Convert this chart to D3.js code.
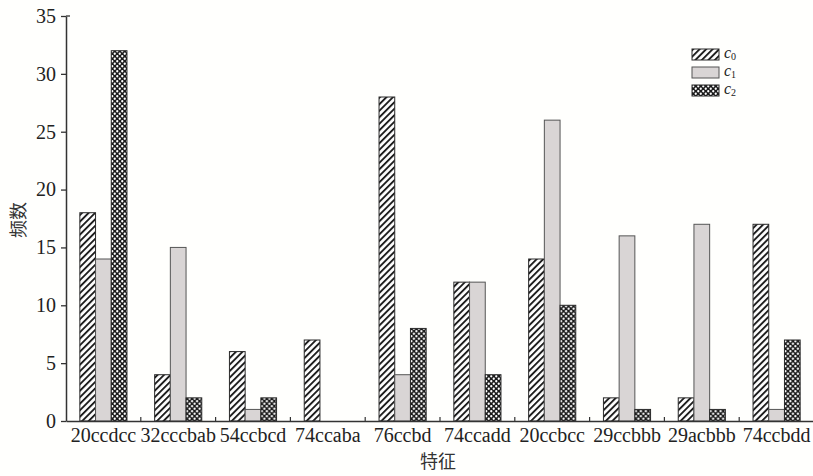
<!DOCTYPE html>
<html>
<head>
<meta charset="utf-8">
<script src="https://cdn.jsdelivr.net/npm/d3@7"></script>
<style>
  body { margin: 0; background: #fffffd; }
  svg { display: block; }
</style>
</head>
<body>
<svg id="chart" width="813" height="476"></svg>
<script>
// Feature categories and the frequency of each class c0, c1, c2
const categories = ["20ccdcc", "32cccbab", "54ccbcd", "74ccaba", "76ccbd",
                    "74ccadd", "20ccbcc", "29ccbbb", "29acbbb", "74ccbdd"];
const c0Values = [18, 4, 6, 7, 28, 12, 14, 2, 2, 17];
const c1Values = [14, 15, 1, 0, 4, 12, 26, 16, 17, 1];
const c2Values = [32, 2, 2, 0, 8, 4, 10, 1, 1, 7];
const seriesKeys = ["c0", "c1", "c2"];
const seriesSubs = ["0", "1", "2"];
const yTickValues = [0, 5, 10, 15, 20, 25, 30, 35];
const xTitle = "特征";
const yTitle = "频数";

const seriesValues = [c0Values, c1Values, c2Values];
const rows = categories.map((cat, i) => ({
  cat,
  vals: seriesKeys.map((k, s) => ({ key: k, value: seriesValues[s][i] }))
}));

const svg = d3.select("#chart");
const margin = { left: 66, right: -1, top: 16, bottom: 55 };
const W = 813, H = 476;

const x0 = d3.scaleBand().domain(categories)
  .range([margin.left, W - margin.right]).paddingInner(0).paddingOuter(0);
const step = x0.bandwidth();
const x1 = d3.scaleBand().domain(seriesKeys)
  .range([step * 0.185, step * 0.815]).padding(0);
const y = d3.scaleLinear().domain([0, 35]).range([H - margin.bottom, margin.top]);

// Fill patterns
const defs = svg.append("defs");
const hatch = defs.append("pattern").attr("id", "hatch")
  .attr("patternUnits", "userSpaceOnUse").attr("width", 4.6).attr("height", 4.6)
  .attr("patternTransform", "rotate(45)");
hatch.append("rect").attr("width", 4.6).attr("height", 4.6).attr("fill", "#ffffff");
hatch.append("rect").attr("x", 0).attr("width", 1.9).attr("height", 4.6).attr("fill", "#1e1e1e");

const dots = defs.append("pattern").attr("id", "dots")
  .attr("patternUnits", "userSpaceOnUse").attr("width", 5).attr("height", 5);
dots.append("rect").attr("width", 5).attr("height", 5).attr("fill", "#1a1a1a");
[[1.25, 1.25], [3.75, 3.75]].forEach(([cx, cy]) =>
  dots.append("circle").attr("cx", cx).attr("cy", cy).attr("r", 1.15).attr("fill", "#ffffff"));

const fills = { c0: "url(#hatch)", c1: "#d9d5d5", c2: "url(#dots)" };
const strokes = { c0: "#2a2a2a", c1: "#555", c2: "#2a2a2a" };

// Bars
const groups = svg.append("g").selectAll("g").data(rows).join("g")
  .attr("transform", d => `translate(${x0(d.cat)},0)`);
groups.selectAll("rect").data(d => d.vals.filter(v => v.value > 0)).join("rect")
  .attr("x", d => x1(d.key))
  .attr("y", d => y(d.value))
  .attr("width", x1.bandwidth())
  .attr("height", d => y(0) - y(d.value))
  .attr("fill", d => fills[d.key])
  .attr("stroke", d => strokes[d.key])
  .attr("stroke-width", 1);

const axisColor = "#333";
const tickFont = "'Liberation Serif', 'Times New Roman', serif";

// Y axis
const yAxis = svg.append("g").attr("transform", `translate(${margin.left},0)`)
  .call(d3.axisLeft(y).tickValues(yTickValues).tickSize(5).tickSizeOuter(0).tickPadding(5));
yAxis.select(".domain").attr("stroke", axisColor).attr("stroke-width", 1.5);
yAxis.selectAll(".tick line").attr("stroke", axisColor).attr("stroke-width", 1.3);
yAxis.selectAll(".tick text").attr("font-family", tickFont).attr("font-size", 20)
  .attr("fill", "#222");
svg.append("line").attr("x1", margin.left).attr("x2", margin.left + 4)
  .attr("y1", y(35)).attr("y2", y(35)).attr("stroke", axisColor).attr("stroke-width", 1.3);

// X axis with labels at group centres and small ticks between groups
const xAxis = svg.append("g").attr("transform", `translate(0,${y(0)})`)
  .call(d3.axisBottom(x0).tickSize(0).tickSizeOuter(0).tickPadding(7));
xAxis.select(".domain").attr("stroke", axisColor).attr("stroke-width", 1.5);
xAxis.selectAll(".tick text").attr("font-family", tickFont).attr("font-size", 20)
  .attr("fill", "#222");
xAxis.selectAll(".sep").data(categories.slice(1)).join("line")
  .attr("class", "sep")
  .attr("x1", d => x0(d)).attr("x2", d => x0(d))
  .attr("y1", 0).attr("y2", -4)
  .attr("stroke", axisColor).attr("stroke-width", 1.2);

// Axis titles
const cjkFont = "'Noto Sans CJK SC', 'Noto Sans', sans-serif";
svg.append("text").attr("x", 438).attr("y", 468).attr("text-anchor", "middle")
  .attr("font-family", cjkFont).attr("font-size", 18).attr("fill", "#333").text(xTitle);
svg.append("text").attr("transform", `translate(25,${220}) rotate(-90)`)
  .attr("text-anchor", "middle").attr("font-family", cjkFont)
  .attr("font-size", 18).attr("fill", "#333").text(yTitle);

// Legend
const legend = svg.append("g").attr("transform", "translate(692,49)");
const li = legend.selectAll("g").data(seriesKeys).join("g")
  .attr("transform", (d, i) => `translate(0,${i * 18})`);
li.append("rect").attr("width", 27).attr("height", 11)
  .attr("fill", d => fills[d]).attr("stroke", d => strokes[d]).attr("stroke-width", 1);
const lt = li.append("text").attr("x", 32).attr("y", 9)
  .attr("font-family", tickFont).attr("font-size", 16).attr("fill", "#222");
lt.append("tspan").attr("font-style", "italic").text("c");
lt.append("tspan").attr("font-size", 10).attr("dy", 2).text((d, i) => seriesSubs[i]);
</script>
</body>
</html>
